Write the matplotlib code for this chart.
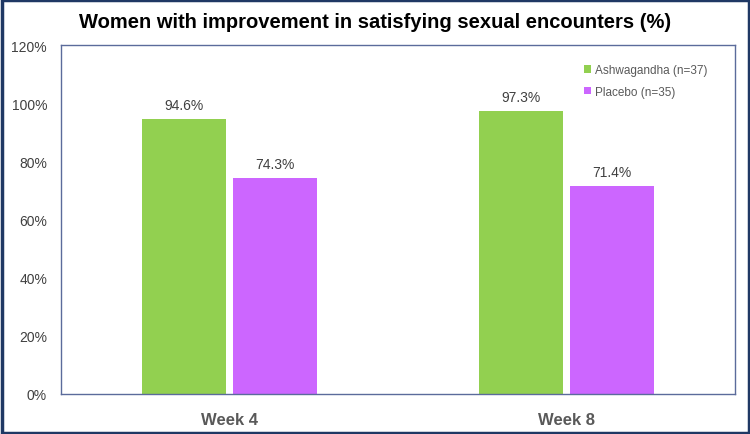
import matplotlib
matplotlib.use("Agg")
import matplotlib.pyplot as plt
import numpy as np
from matplotlib.patches import Rectangle

plt.rcParams['font.family'] = ['Liberation Sans', 'DejaVu Sans']

categories = ["Week 4", "Week 8"]
ashwagandha = [94.6, 97.3]
placebo = [74.3, 71.4]
series_labels = ["Ashwagandha (n=37)", "Placebo (n=35)"]
yticks = [0, 20, 40, 60, 80, 100, 120]

green = "#92D050"
purple = "#CC66FF"

fig = plt.figure(figsize=(7.5, 4.35), dpi=100)
ax = fig.add_axes([61/750, 1-395/435, 674/750, 349/435])

x = np.arange(len(categories))
w = 0.252
gap = 0.018
b1 = ax.bar(x - w/2 - gap/2, ashwagandha, w, color=green, label=series_labels[0])
b2 = ax.bar(x + w/2 + gap/2, placebo, w, color=purple, label=series_labels[1])

for bars, vals in ((b1, ashwagandha), (b2, placebo)):
    for r, v in zip(bars, vals):
        ax.text(r.get_x() + r.get_width()/2, v + 2.5, f"{v:.1f}%", ha="center", va="bottom",
                fontsize=10, color="#404040")

ax.set_xlim(-0.5, 1.5)
ax.set_ylim(0, 120)
ax.set_yticks(yticks)
ax.set_yticklabels([f"{t}%" for t in yticks], fontsize=10, color="#404040")
ax.set_xticks(x)
ax.set_xticklabels(categories, fontsize=12, fontweight="bold", color="#595959")
ax.tick_params(axis="both", length=0)
ax.tick_params(axis="y", pad=10)
ax.tick_params(axis="x", pad=13)
for s in ax.spines.values():
    s.set_color("#5B6B9B")
    s.set_linewidth(1.0)

ax.legend(loc="upper right", bbox_to_anchor=(0.975, 0.975), frameon=False, fontsize=8.5,
          handlelength=0.6, handleheight=0.6, handletextpad=0.3, labelspacing=0.8,
          labelcolor="#595959")

fig.text(0.5, 1-23/435, "Women with improvement in satisfying sexual encounters (%)",
         ha="center", va="center", fontsize=14.5, fontweight="bold", color="black")

fig.patches.append(Rectangle((0.002, 0.003), 0.996, 0.994, transform=fig.transFigure,
                             fill=False, edgecolor="#1F3864", linewidth=2.5))

fig.savefig("out.png", dpi=100)
